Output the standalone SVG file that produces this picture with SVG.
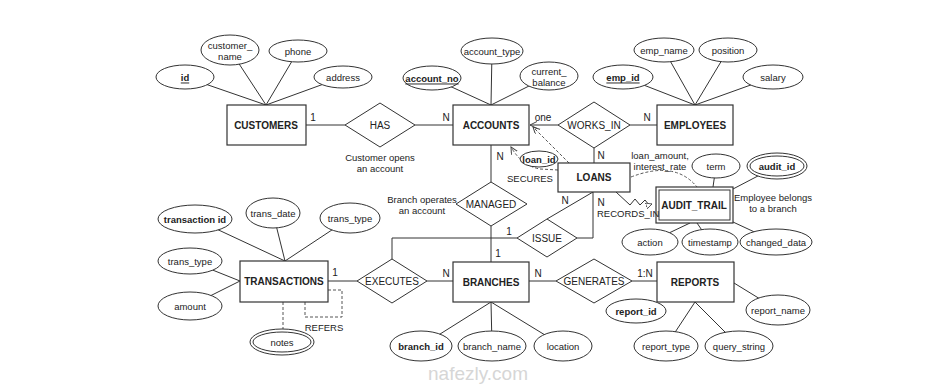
<svg xmlns="http://www.w3.org/2000/svg" width="952" height="384" viewBox="0 0 952 384">
<style>
text{font-family:"Liberation Sans",Arial,sans-serif;fill:#222;dominant-baseline:central;text-anchor:middle}
.t{font-size:9.5px}
.b{font-size:9.5px;font-weight:bold}
.en{font-size:10px;font-weight:bold}
.rl{font-size:10px}
.c{font-size:10px}
.u{text-decoration:underline}
.l{stroke:#333;stroke-width:1;fill:none}
.dl{stroke:#555;stroke-width:1;fill:none;stroke-dasharray:3,2}
ellipse{fill:#fff;stroke:#333;stroke-width:1}
rect{fill:#fff;stroke:#333;stroke-width:1.2}
polygon{fill:#fff;stroke:#333;stroke-width:1}
.wm{font-size:19px;fill:#d6d6d6}
</style>
<defs>
<marker id="op" markerWidth="8" markerHeight="8" refX="7" refY="3.5" orient="auto" markerUnits="userSpaceOnUse">
<path d="M0,0 L7,3.5 L0,7" fill="none" stroke="#444" stroke-width="1"/>
</marker>
<marker id="tri" markerWidth="8" markerHeight="8" refX="6" refY="3" orient="auto" markerUnits="userSpaceOnUse">
<path d="M0,0 L6,3 L0,6 Z" fill="#fff" stroke="#444" stroke-width="0.8"/>
</marker>
</defs>
<rect x="0" y="0" width="952" height="384" style="fill:#fff;stroke:none"/>
<text class="wm" x="478" y="373">nafezly.com</text>
<g id="connectors">
<!-- attribute lines -->
<line class="l" x1="185" y1="77" x2="266" y2="105"/>
<line class="l" x1="230" y1="50" x2="266" y2="105"/>
<line class="l" x1="298" y1="51" x2="266" y2="105"/>
<line class="l" x1="343" y1="77" x2="266" y2="105"/>
<line class="l" x1="432" y1="78" x2="491" y2="105"/>
<line class="l" x1="492" y1="51" x2="491" y2="105"/>
<line class="l" x1="549" y1="76" x2="491" y2="105"/>
<line class="l" x1="623" y1="77" x2="695" y2="105"/>
<line class="l" x1="664" y1="50" x2="695" y2="105"/>
<line class="l" x1="728" y1="50" x2="695" y2="105"/>
<line class="l" x1="773" y1="77" x2="695" y2="105"/>
<line class="l" x1="195" y1="219" x2="285" y2="261"/>
<line class="l" x1="273" y1="213" x2="285" y2="261"/>
<line class="l" x1="350" y1="218" x2="285" y2="261"/>
<line class="l" x1="190" y1="261" x2="240" y2="281"/>
<line class="l" x1="190" y1="306" x2="240" y2="281"/>
<line class="l" x1="421" y1="346" x2="491" y2="302"/>
<line class="l" x1="492" y1="346" x2="491" y2="302"/>
<line class="l" x1="563" y1="346" x2="491" y2="302"/>
<line class="l" x1="666" y1="346" x2="695" y2="302"/>
<line class="l" x1="739" y1="346" x2="695" y2="302"/>
<line class="l" x1="778" y1="310" x2="734" y2="283"/>
<line class="l" x1="716" y1="166" x2="713" y2="187"/>
<line class="l" x1="777" y1="166" x2="733" y2="189"/>
<line class="l" x1="650" y1="242" x2="690" y2="223"/>
<line class="l" x1="710" y1="242" x2="697" y2="223"/>
<line class="l" x1="776" y1="242" x2="733" y2="222"/>
<!-- relationship lines -->
<line class="l" x1="306" y1="125" x2="345" y2="125"/>
<line class="l" x1="415" y1="125" x2="453" y2="125"/>
<line class="l" x1="558" y1="125" x2="530" y2="125" marker-end="url(#op)"/>
<line class="l" x1="630" y1="125" x2="657" y2="125"/>
<line class="l" x1="594" y1="148" x2="594" y2="163"/>
<line class="l" x1="491" y1="145" x2="491" y2="182"/>
<line class="l" x1="491" y1="226" x2="491" y2="262"/>
<polyline class="l" points="517,238 392,238 392,259"/>
<line class="l" x1="593" y1="192" x2="547" y2="219"/>
<polyline class="l" points="593,192 593,238 577,238"/>
<line class="l" x1="328" y1="281" x2="357" y2="281"/>
<line class="l" x1="427" y1="281" x2="453" y2="281"/>
<line class="l" x1="529" y1="281" x2="556" y2="281"/>
<line class="l" x1="632" y1="281" x2="657" y2="281"/>
<polyline class="l" points="616,192 630,205 635,199 640,205 645,200 649,205 652,204" marker-end="url(#tri)"/>
<!-- dashed -->
<line class="dl" x1="569" y1="163" x2="533" y2="127" marker-end="url(#op)"/>
<path class="dl" d="M558,170 L540,169 Q522,166 511,147" marker-end="url(#op)"/>
<path class="dl" d="M631,177 Q675,160 697,187"/>
<line class="dl" x1="283" y1="302" x2="283" y2="329"/>
<path class="dl" d="M305,302 V317 H342 V290 H328"/>
</g>
<g id="customers"><rect x="227" y="105" width="79" height="40"/><text class="en" x="266" y="125">CUSTOMERS</text></g>
<g id="attr-id"><ellipse cx="185" cy="77" rx="29" ry="12"/><text class="b u" x="185" y="77">id</text></g>
<g id="attr-customer-name"><ellipse cx="230" cy="50" rx="29" ry="15"/><text class="t" x="230" y="45">customer_</text><text class="t" x="230" y="56">name</text></g>
<g id="attr-phone"><ellipse cx="298" cy="51" rx="29" ry="11"/><text class="t" x="298" y="51">phone</text></g>
<g id="attr-address"><ellipse cx="343" cy="77" rx="29" ry="11"/><text class="t" x="343" y="77">address</text></g>
<g id="has"><polygon points="345,125 380,103 415,125 380,147"/><text class="rl" x="380" y="125">HAS</text></g>
<g id="accounts"><rect x="453" y="105" width="76" height="40"/><text class="en" x="491" y="125">ACCOUNTS</text></g>
<g id="attr-account-no"><ellipse cx="432" cy="78" rx="29" ry="12"/><text class="b u" x="432" y="78">account_no</text></g>
<g id="attr-account-type"><ellipse cx="492" cy="51" rx="31" ry="13"/><text class="t" x="492" y="51">account_type</text></g>
<g id="attr-current-balance"><ellipse cx="549" cy="76" rx="29" ry="14"/><text class="t" x="549" y="71">current_</text><text class="t" x="549" y="82">balance</text></g>
<g id="works-in"><polygon points="558,125 594,102 630,125 594,148"/><text class="rl" x="594" y="125">WORKS_IN</text></g>
<g id="employees"><rect x="657" y="105" width="76" height="40"/><text class="en" x="695" y="125">EMPLOYEES</text></g>
<g id="attr-emp-id"><ellipse cx="623" cy="77" rx="30" ry="12"/><text class="b u" x="623" y="77">emp_id</text></g>
<g id="attr-emp-name"><ellipse cx="664" cy="50" rx="30" ry="12"/><text class="t" x="664" y="50">emp_name</text></g>
<g id="attr-position"><ellipse cx="728" cy="50" rx="29" ry="12"/><text class="t" x="728" y="50">position</text></g>
<g id="attr-salary"><ellipse cx="773" cy="77" rx="30" ry="12"/><text class="t" x="773" y="77">salary</text></g>
<g id="loans"><rect x="558" y="163" width="72" height="29"/><text class="en" x="594" y="177">LOANS</text></g>
<g id="attr-loan-id"><ellipse cx="539" cy="159" rx="19" ry="8"/><text class="b" x="539" y="159">loan_id</text></g>
<g id="managed"><polygon points="456,204 491,182 527,204 491,226"/><text class="rl" x="491" y="204">MANAGED</text></g>
<g id="issue"><polygon points="517,238 547,219 577,238 547,257"/><text class="rl" x="547" y="238">ISSUE</text></g>
<g id="audit-trail"><rect x="656" y="187" width="77" height="36"/><rect x="659" y="190" width="71" height="30" style="fill:none;stroke-width:1"/><text class="en" x="694" y="205">AUDIT_TRAIL</text></g>
<g id="attr-term"><ellipse cx="716" cy="166" rx="24" ry="12"/><text class="t" x="716" y="166">term</text></g>
<g id="attr-audit-id"><ellipse cx="777" cy="166" rx="30" ry="13"/><ellipse cx="777" cy="166" rx="27" ry="10" style="fill:none"/><text class="b" x="777" y="166">audit_id</text></g>
<g id="attr-action"><ellipse cx="650" cy="242" rx="28" ry="13"/><text class="t" x="650" y="242">action</text></g>
<g id="attr-timestamp"><ellipse cx="710" cy="242" rx="28" ry="13"/><text class="t" x="710" y="242">timestamp</text></g>
<g id="attr-changed-data"><ellipse cx="776" cy="242" rx="36" ry="13"/><text class="t" x="776" y="242">changed_data</text></g>
<g id="transactions"><rect x="240" y="261" width="88" height="41"/><text class="en" x="284" y="281">TRANSACTIONS</text></g>
<g id="attr-transaction-id"><ellipse cx="195" cy="219" rx="37" ry="14"/><text class="b" x="195" y="219">transaction id</text></g>
<g id="attr-trans-date"><ellipse cx="273" cy="213" rx="27" ry="15"/><text class="t" x="273" y="213">trans_date</text></g>
<g id="attr-trans-type-1"><ellipse cx="350" cy="218" rx="30" ry="15"/><text class="t" x="350" y="218">trans_type</text></g>
<g id="attr-trans-type-2"><ellipse cx="190" cy="261" rx="32" ry="13"/><text class="t" x="190" y="261">trans_type</text></g>
<g id="attr-amount"><ellipse cx="190" cy="306" rx="32" ry="14"/><text class="t" x="190" y="306">amount</text></g>
<g id="attr-notes"><ellipse cx="282" cy="342" rx="32" ry="13"/><ellipse cx="282" cy="342" rx="29" ry="10" style="fill:none"/><text class="t" x="282" y="342">notes</text></g>
<g id="executes"><polygon points="357,281 392,259 427,281 392,303"/><text class="rl" x="392" y="281">EXECUTES</text></g>
<g id="branches"><rect x="453" y="262" width="76" height="40"/><text class="en" x="491" y="282">BRANCHES</text></g>
<g id="attr-branch-id"><ellipse cx="421" cy="346" rx="31" ry="15"/><text class="b" x="421" y="346">branch_id</text></g>
<g id="attr-branch-name"><ellipse cx="492" cy="346" rx="34" ry="15"/><text class="t" x="492" y="346">branch_name</text></g>
<g id="attr-location"><ellipse cx="563" cy="346" rx="29" ry="15"/><text class="t" x="563" y="346">location</text></g>
<g id="generates"><polygon points="556,281 594,259 632,281 594,303"/><text class="rl" x="594" y="281">GENERATES</text></g>
<g id="reports"><rect x="657" y="262" width="77" height="40"/><text class="en" x="695" y="282">REPORTS</text></g>
<g id="attr-report-id"><ellipse cx="636" cy="311" rx="30" ry="12"/><text class="b" x="636" y="311">report_id</text></g>
<g id="attr-report-name"><ellipse cx="778" cy="310" rx="32" ry="15"/><text class="t" x="778" y="310">report_name</text></g>
<g id="attr-report-type"><ellipse cx="666" cy="346" rx="32" ry="15"/><text class="t" x="666" y="346">report_type</text></g>
<g id="attr-query-string"><ellipse cx="739" cy="346" rx="34" ry="15"/><text class="t" x="739" y="346">query_string</text></g>
<g id="labels">
<text class="c" x="313" y="117">1</text>
<text class="c" x="446" y="117">N</text>
<text class="c" x="543" y="117">one</text>
<text class="c" x="647" y="117">N</text>
<text class="c" x="500" y="156">N</text>
<text class="c" x="601" y="155">N</text>
<text class="c" x="565" y="200">N</text>
<text class="c" x="601" y="202">N</text>
<text class="c" x="509" y="231">1</text>
<text class="c" x="498" y="253">1</text>
<text class="c" x="335" y="272">1</text>
<text class="c" x="446" y="273">N</text>
<text class="c" x="538" y="273">N</text>
<text class="c" x="645" y="273">1:N</text>
<text class="t" x="380" y="157">Customer opens</text>
<text class="t" x="380" y="168">an account</text>
<text class="t" x="422" y="199">Branch operates</text>
<text class="t" x="422" y="210">an account</text>
<text class="t" x="530" y="178">SECURES</text>
<text class="t" x="660" y="155">loan_amount,</text>
<text class="t" x="660" y="166">interest_rate</text>
<text class="t" x="773" y="197">Employee belongs</text>
<text class="t" x="773" y="208">to a branch</text>
<text class="t" x="597" y="213" style="text-anchor:start">RECORDS_IN</text>
<text class="t" x="324" y="327">REFERS</text>
</g>
</svg>
